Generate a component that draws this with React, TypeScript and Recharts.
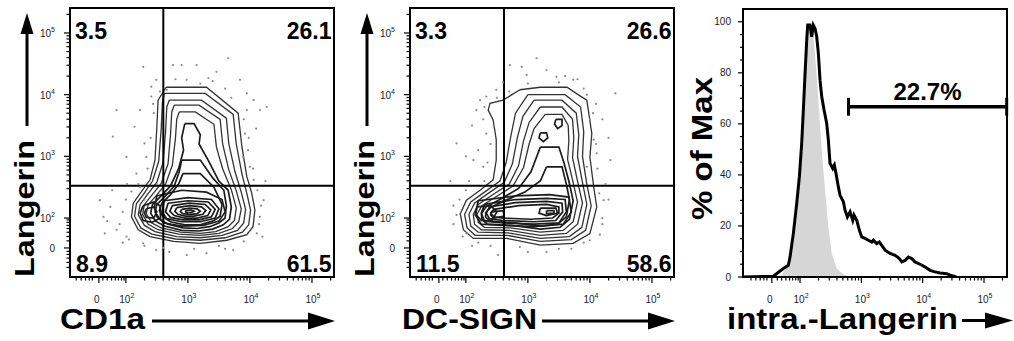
import React from "react"
import { Area, ComposedChart, Line, ReferenceArea, ReferenceLine, Scatter, XAxis, YAxis } from "recharts"

const FONT = "'Liberation Sans', Arial, Helvetica, sans-serif"

// all positions are display decades (10^2 -> 2, 10^3 -> 3 ...), biexponential near 0
const DOT_X_DOMAIN = [1.1, 5.355]
const DOT_Y_DOMAIN = [1.044, 5.405]
const HIST_X_DOMAIN = [1.07, 5.375]
const HIST_Y_DOMAIN = [0, 105]

const DECADES = [2, 3, 4, 5]
const ZERO_X = 1.565
const ZERO_Y = 1.515
const ZERO_HIST = 1.54
const MINOR_RAW = [200, 300, 400, 500, 600, 700, 800, 900, 2000, 3000, 4000, 5000, 6000, 7000, 8000, 9000,
  20000, 30000, 40000, 50000, 60000, 70000, 80000, 90000, 200000]
const NEAR_ZERO = [1.2, 1.28, 1.35, 1.41, 1.46, 1.63, 1.7, 1.77, 1.83, 1.88, 1.93, 1.97]
const PCT_TICKS = [0, 5, 10, 15, 20, 25, 30, 35, 40, 45, 50, 55, 60, 65, 70, 75, 80, 85, 90, 95, 100]
const PCT_MAJOR = [0, 20, 40, 60, 80, 100]

// CD1a vs Langerin
const CD1A_QUAD = ["3.5", "26.1", "8.9", "61.5"]
const CD1A_GATE = [2.604, 2.525]
const CD1A_RINGS = [
  [[2.65,4.12],[3.30,4.12],[3.81,3.70],[3.87,3.16],[3.95,2.67],[4.03,2.40],[4.08,2.13],[4.05,1.86],[3.95,1.73],[3.63,1.64],[3.20,1.59],[2.77,1.62],[2.39,1.70],[2.20,1.81],[2.09,2.02],[2.12,2.24],[2.23,2.40],[2.39,2.62],[2.47,2.94],[2.50,3.48],[2.52,3.91],[2.65,4.12]],
  [[2.62,4.02],[3.28,4.02],[3.73,3.68],[3.78,3.2],[3.87,2.72],[3.95,2.4],[4.01,2.13],[3.98,1.89],[3.88,1.77],[3.6,1.68],[3.2,1.64],[2.8,1.66],[2.42,1.74],[2.24,1.84],[2.14,2.03],[2.17,2.23],[2.28,2.38],[2.43,2.6],[2.53,2.92],[2.57,3.45],[2.59,3.88],[2.62,4.02]],
  [[2.70,3.91],[3.22,3.91],[3.62,3.62],[3.66,3.2],[3.76,2.75],[3.86,2.42],[3.93,2.14],[3.9,1.92],[3.8,1.8],[3.55,1.72],[3.2,1.68],[2.82,1.7],[2.47,1.78],[2.3,1.88],[2.2,2.05],[2.23,2.22],[2.34,2.37],[2.5,2.58],[2.6,2.9],[2.64,3.4],[2.66,3.8],[2.70,3.91]],
  [[2.78,3.83],[3.18,3.83],[3.52,3.6],[3.56,3.2],[3.66,2.78],[3.78,2.44],[3.86,2.15],[3.82,1.94],[3.72,1.83],[3.5,1.75],[3.2,1.72],[2.85,1.74],[2.52,1.81],[2.36,1.9],[2.27,2.06],[2.3,2.22],[2.41,2.36],[2.57,2.56],[2.68,2.88],[2.72,3.35],[2.74,3.72],[2.78,3.83]],
  [[2.86,3.72],[3.12,3.72],[3.42,3.52],[3.46,3.15],[3.56,2.8],[3.7,2.46],[3.78,2.16],[3.75,1.96],[3.65,1.86],[3.45,1.78],[3.2,1.75],[2.88,1.77],[2.57,1.84],[2.42,1.92],[2.33,2.07],[2.36,2.22],[2.48,2.35],[2.64,2.55],[2.75,2.86],[2.8,3.3],[2.82,3.6],[2.86,3.72]],
  [[2.95,3.53],[3.1,3.53],[3.2,3.35],[3.18,3.2],[3.32,2.95],[3.5,2.6],[3.65,2.45],[3.7,2.18],[3.67,1.98],[3.57,1.89],[3.4,1.82],[3.18,1.79],[2.9,1.8],[2.62,1.87],[2.48,1.95],[2.4,2.08],[2.43,2.22],[2.55,2.34],[2.72,2.52],[2.85,2.8],[2.93,3.1],[2.9,3.3],[2.95,3.53]],
  [[2.9,2.94],[3.2,2.94],[3.4,2.65],[3.58,2.45],[3.62,2.2],[3.6,2.0],[3.5,1.92],[3.35,1.86],[3.15,1.83],[2.92,1.84],[2.68,1.9],[2.55,1.98],[2.47,2.1],[2.5,2.22],[2.62,2.34],[2.78,2.52],[2.86,2.75],[2.9,2.94]],
  [[2.92,2.72],[3.2,2.72],[3.42,2.5],[3.55,2.22],[3.52,2.03],[3.42,1.96],[3.2,1.89],[2.95,1.89],[2.72,1.94],[2.6,2.02],[2.54,2.12],[2.58,2.24],[2.72,2.38],[2.85,2.55],[2.92,2.72]],
  [[2.5,2.36],[2.9,2.45],[3.3,2.42],[3.55,2.3],[3.6,2.1],[3.5,1.95],[3.25,1.88],[2.9,1.87],[2.62,1.92],[2.5,2.02],[2.46,2.18],[2.5,2.36]],
  [[2.62,2.28],[3.0,2.33],[3.38,2.3],[3.5,2.15],[3.44,2.0],[3.2,1.94],[2.9,1.94],[2.66,1.99],[2.58,2.1],[2.62,2.28]],
  [[2.68,2.24],[3.0,2.28],[3.33,2.26],[3.44,2.14],[3.38,2.02],[3.18,1.97],[2.92,1.97],[2.72,2.01],[2.64,2.1],[2.68,2.24]],
  [[2.75,2.2],[3.02,2.24],[3.28,2.22],[3.37,2.13],[3.32,2.04],[3.15,2.0],[2.95,2.0],[2.78,2.04],[2.71,2.11],[2.75,2.2]],
  [[2.82,2.17],[3.03,2.2],[3.22,2.18],[3.29,2.12],[3.24,2.06],[3.1,2.03],[2.96,2.03],[2.84,2.06],[2.79,2.11],[2.82,2.17]],
  [[2.9,2.14],[3.03,2.16],[3.15,2.15],[3.2,2.11],[3.15,2.07],[3.03,2.06],[2.92,2.07],[2.88,2.1],[2.9,2.14]],
  [[2.96,2.12],[3.05,2.13],[3.1,2.11],[3.05,2.09],[2.97,2.09],[2.96,2.12]],
  [[2.28,2.2],[2.45,2.26],[2.55,2.2],[2.56,2.0],[2.42,1.93],[2.28,1.96],[2.23,2.08],[2.28,2.2]],
  [[2.33,2.15],[2.45,2.18],[2.5,2.1],[2.45,2.0],[2.33,2.01],[2.3,2.08],[2.33,2.15]],
]
const CD1A_DOTS = [[3.65,4.59],[3.33,4.27],[2.28,4.45],[2.76,4.48],[2.9,4.48],[3.14,4.48],[2.49,4.24],[2.41,3.97],[2.23,3.75],
  [1.85,3.75],[1.79,3.32],[2.14,3.48],[2.3,3.21],[2.33,2.99],[2.01,2.99],[2.17,2.72],[1.58,2.29],[1.75,2.18],[1.64,2.02],
  [1.66,1.75],[1.85,1.81],[2.09,2.43],[2.23,2.5],[3.84,4.24],[3.95,4.02],[4.06,3.91],[3.95,3.75],[4.16,3.75],[4.27,3.8],
  [3.92,3.37],[3.97,3.1],[3.89,2.99],[4.0,2.83],[4.06,2.62],[4.22,2.29],[4.16,2.02],[4.11,1.75],[3.73,1.48],[2.98,1.4],
  [3.3,1.43],[2.49,1.48],[2.28,1.59],[2.01,1.7],[3.46,4.37],[3.2,4.18],[2.98,4.24],[2.66,4.08],[2.41,4.13],
  [2.45,3.7],[2.4,3.3],[2.35,2.8],[2.2,2.55],[2.0,2.3],[1.95,2.1],[1.9,1.9],[2.05,1.65],[2.3,1.55],[2.6,1.52],[3.1,1.5],
  [3.5,1.55],[3.9,1.62],[4.15,1.9],[4.18,2.2],[4.12,2.45],[4.05,2.8],[3.98,3.3],[3.9,3.6],[3.6,4.1],[3.4,4.22],[2.8,4.25],
  [2.55,4.05],[2.44,3.85],[2.02,2.55],[1.78,2.45],[1.7,1.95],[1.95,1.6],[2.7,1.45],[3.6,1.5],[4.2,1.7],[4.25,2.6],
  [4.1,3.45],[3.7,3.95],[2.5,2.55],[2.3,2.3]]

// DC-SIGN vs Langerin
const SIGN_QUAD = ["3.3", "26.6", "11.5", "58.6"]
const SIGN_GATE = [2.615, 2.525]
const SIGN_RINGS = [
  [[2.87,4.08],[3.2,4.12],[3.63,4.12],[3.84,3.98],[3.95,3.91],[4.03,3.37],[4.0,2.99],[4.06,2.51],[4.11,2.18],[4.0,1.75],[3.73,1.59],[3.2,1.56],[2.66,1.67],[2.12,1.67],[1.96,1.81],[1.91,2.07],[2.01,2.29],[2.23,2.45],[2.44,2.62],[2.49,2.94],[2.49,3.27],[2.44,3.59],[2.36,3.75],[2.39,3.86],[2.6,3.91],[2.87,4.08]],
  [[3.0,4.0],[3.6,4.0],[3.85,3.8],[3.9,3.4],[3.88,3.0],[3.95,2.55],[4.02,2.2],[3.93,1.8],[3.7,1.65],[3.2,1.62],[2.66,1.72],[2.15,1.72],[2.02,1.84],[1.98,2.06],[2.08,2.26],[2.3,2.42],[2.55,2.6],[2.65,2.9],[2.72,3.3],[2.8,3.7],[3.0,4.0]],
  [[3.1,3.91],[3.55,3.91],[3.78,3.7],[3.82,3.35],[3.8,3.0],[3.88,2.58],[3.95,2.22],[3.87,1.85],[3.67,1.7],[3.2,1.67],[2.68,1.76],[2.2,1.77],[2.08,1.87],[2.05,2.06],[2.14,2.24],[2.36,2.4],[2.62,2.58],[2.75,2.88],[2.83,3.3],[2.92,3.65],[3.1,3.91]],
  [[3.2,3.8],[3.55,3.8],[3.72,3.6],[3.74,3.3],[3.72,2.98],[3.8,2.6],[3.88,2.24],[3.8,1.9],[3.62,1.75],[3.2,1.72],[2.7,1.8],[2.25,1.81],[2.14,1.9],[2.12,2.06],[2.2,2.22],[2.42,2.37],[2.7,2.55],[2.85,2.85],[2.93,3.25],[3.02,3.55],[3.2,3.8]],
  [[3.28,3.68],[3.55,3.68],[3.65,3.5],[3.66,3.25],[3.64,2.95],[3.72,2.62],[3.8,2.26],[3.73,1.94],[3.57,1.8],[3.2,1.77],[2.72,1.84],[2.3,1.85],[2.2,1.93],[2.18,2.06],[2.26,2.2],[2.48,2.34],[2.76,2.52],[2.93,2.82],[3.02,3.2],[3.1,3.45],[3.28,3.68]],
  [[3.2,3.15],[3.5,3.15],[3.58,2.9],[3.66,2.6],[3.73,2.28],[3.67,1.98],[3.52,1.85],[3.2,1.82],[2.75,1.88],[2.35,1.9],[2.26,1.97],[2.25,2.07],[2.32,2.18],[2.55,2.3],[2.85,2.48],[3.05,2.75],[3.2,3.15]],
  [[3.2,3.38],[3.3,3.38],[3.32,3.3],[3.25,3.24],[3.18,3.3],[3.2,3.38]],
  [[3.45,3.6],[3.55,3.6],[3.55,3.5],[3.48,3.45],[3.43,3.52],[3.45,3.6]],
  [[3.3,2.83],[3.55,2.83],[3.62,2.55],[3.67,2.3],[3.62,2.02],[3.48,1.9],[3.2,1.87],[2.78,1.92],[2.4,1.95],[2.32,2.01],[2.32,2.09],[2.4,2.17],[2.6,2.27],[2.95,2.42],[3.2,2.6],[3.3,2.83]],
  [[2.2,2.28],[2.8,2.36],[3.35,2.38],[3.66,2.34],[3.7,2.1],[3.57,1.9],[3.1,1.86],[2.6,1.88],[2.25,1.9],[2.15,2.05],[2.2,2.28]],
  [[2.3,2.22],[2.8,2.3],[3.3,2.32],[3.6,2.3],[3.62,2.1],[3.5,1.92],[3.1,1.9],[2.6,1.92],[2.3,1.95],[2.25,2.08],[2.3,2.22]],
  [[2.38,2.18],[2.8,2.25],[3.3,2.27],[3.55,2.24],[3.56,2.1],[3.45,1.96],[3.1,1.94],[2.6,1.96],[2.38,1.99],[2.33,2.08],[2.38,2.18]],
  [[2.45,2.14],[2.85,2.2],[3.3,2.22],[3.5,2.18],[3.5,2.08],[3.4,2.0],[3.05,1.98],[2.6,2.0],[2.45,2.02],[2.4,2.08],[2.45,2.14]],
  [[2.18,2.18],[2.4,2.2],[2.5,2.1],[2.42,1.96],[2.25,1.96],[2.16,2.06],[2.18,2.18]],
  [[2.42,2.1],[2.6,2.12],[2.62,2.03],[2.45,2.0],[2.4,2.05],[2.42,2.1]],
  [[3.2,2.16],[3.45,2.16],[3.48,2.08],[3.3,2.04],[3.18,2.08],[3.2,2.16]],
  [[3.3,2.12],[3.42,2.12],[3.42,2.08],[3.3,2.07],[3.3,2.12]],
]
const SIGN_DOTS = [[3.14,4.59],[2.71,4.48],[2.9,4.45],[3.3,4.4],[3.6,4.3],[3.73,4.24],[3.46,4.29],[2.98,4.32],[2.49,4.08],
  [2.33,3.97],[2.23,3.91],[2.17,3.75],[2.28,3.6],[1.85,3.21],[2.33,3.37],[2.2,3.1],[2.12,2.94],[2.28,2.83],[2.05,2.6],
  [1.9,2.3],[1.85,2.05],[1.95,1.7],[2.01,1.75],[2.52,1.4],[2.87,1.53],[3.3,1.45],[3.7,1.5],[4.0,1.64],[4.16,1.73],
  [4.22,2.29],[4.25,2.55],[3.95,2.83],[4.11,3.05],[4.33,2.94],[4.06,3.27],[4.0,3.6],[4.1,3.85],[4.41,4.02],[3.9,4.1],
  [2.6,4.2],[2.45,3.5],[4.2,2.0],[2.4,3.2],[2.35,2.9],[2.3,2.6],[2.0,2.45],[1.8,2.2],[1.8,1.9],[2.1,1.55],[2.4,1.55],
  [3.0,1.45],[3.5,1.5],[3.9,1.6],[4.2,1.9],[4.15,2.4],[4.12,2.8],[4.1,3.2],[4.05,3.7],[3.95,4.0],[3.5,4.2],[3.0,4.18],
  [2.7,4.05],[2.5,3.95],[2.3,3.8],[2.1,3.5],[2.0,3.0],[1.75,2.6],[4.3,2.3],[4.3,3.3],[2.2,1.6],[3.8,4.25],[4.2,3.6]]

// intracellular Langerin histogram (% of max)
const STAIN_X = [1.07,1.565,1.728,1.809,1.837,1.891,1.946,1.989,2.027,2.054,2.082,2.109,2.125,2.163,2.19,2.217,2.245,2.272,
  2.299,2.326,2.354,2.392,2.435,2.462,2.489,2.533,2.56,2.587,2.625,2.653,2.707,2.734,2.772,2.816,2.86,2.881,2.925,2.968,
  3.006,3.06,3.114,3.17,3.196,3.25,3.293,3.332,3.387,3.468,3.55,3.62,3.659,3.713,3.767,3.822,3.876,3.958,4.039,4.121,
  4.202,4.284,4.393,4.447,4.55]
const STAIN_Y = [0,0.3,3.3,4.6,7.8,17,28.8,39.2,52.3,65.4,79.8,92.8,98.7,98.7,94.1,98.7,97.4,94.1,87.6,77.1,70.6,65.4,
  60.2,53.6,44.5,42.5,43.8,40.5,35.3,32,29.5,26.2,23.5,25.5,22.2,24.2,22.2,18.3,15.7,15.1,14.4,13.7,14.4,13.1,13.7,12.4,
  10.5,9.2,8.5,7.2,5.9,6.5,7.8,7.2,5.9,5.0,3.9,2.6,2.0,1.6,1.3,0.7,0]
const ISO_X = [1.674,1.783,1.865,1.918,1.972,2.011,2.054,2.082,2.109,2.136,2.174,2.207,2.228,2.261,2.299,2.354,2.408,
  2.462,2.517,2.599,2.707,2.816]
const ISO_Y = [0,3.9,9.2,17,30.1,43.1,58.8,75.8,88.9,98,96.1,98,91.5,82.4,69.3,49.7,34,19.6,9.2,3.3,1.0,0]
const HIST_GATE = [2.79, 5.37]
const HIST_GATE_LEVEL = 66.7
const HIST_GATE_LABEL = "22.7%"

const toPts = (r: number[][]) => r.map(([x, y]) => ({ x, y }))
const zip = (xs: number[], ys: number[]) => xs.map((x, i) => ({ x, y: ys[i] }))

function logTicks(zero: number, domain: number[]) {
  return [zero, ...DECADES, ...NEAR_ZERO, ...MINOR_RAW.map(Math.log10)]
    .filter((v) => v >= domain[0] && v <= domain[1])
    .sort((a, b) => a - b)
}

function logLabel(v: number, zero: number) {
  if (v === zero) return "0"
  return (
    <>
      <tspan>10</tspan>
      <tspan dy={-5} fontSize={7}>{v}</tspan>
    </>
  )
}

const bottomTick = (zero: number) => (p: any) => {
  const v = p.payload.value
  const major = v === zero || DECADES.includes(v)
  return (
    <g>
      <line x1={p.x} x2={p.x} y1={p.y} y2={p.y + (major ? 6 : 3.5)} stroke="#000" strokeWidth={1.2} />
      {major && (
        <text x={v === zero ? p.x - 2 : p.x + 1} y={p.y + 26} textAnchor="middle" fontSize={10} fill="#222" fontFamily={FONT}>
          {logLabel(v, zero)}
        </text>
      )}
    </g>
  )
}

const leftTick = (zero: number) => (p: any) => {
  const v = p.payload.value
  const major = v === zero || DECADES.includes(v)
  return (
    <g>
      <line x1={p.x - (major ? 6 : 3.5)} x2={p.x} y1={p.y} y2={p.y} stroke="#000" strokeWidth={1.2} />
      {major && (
        <text x={p.x - 15} y={p.y + 4} textAnchor="end" fontSize={10} fill="#222" fontFamily={FONT}>
          {logLabel(v, zero)}
        </text>
      )}
    </g>
  )
}

const pctTick = (p: any) => {
  const v = p.payload.value
  const major = PCT_MAJOR.includes(v)
  return (
    <g>
      <line x1={p.x - (major ? 5 : 3)} x2={p.x} y1={p.y} y2={p.y} stroke="#000" strokeWidth={1.2} />
      {major && (
        <text x={p.x - 12} y={p.y + 3.5} textAnchor="end" fontSize={10} fill="#222" fontFamily={FONT}>
          {v}
        </text>
      )}
    </g>
  )
}

const dotShape = (p: any) => <circle cx={p.cx} cy={p.cy} r={1.1} fill="#8a8a8a" />

function DotPlot({ rings, dots, gate }: { rings: number[][][]; dots: number[][]; gate: number[] }) {
  return (
    <ComposedChart width={340} height={341} margin={{ top: 8, right: 6, bottom: 34, left: 30 }}>
      <XAxis type="number" dataKey="x" domain={DOT_X_DOMAIN} allowDataOverflow ticks={logTicks(ZERO_X, DOT_X_DOMAIN)}
        interval={0} tick={bottomTick(ZERO_X)} tickLine={false} tickSize={0} tickMargin={0} height={30}
        axisLine={{ stroke: "#000", strokeWidth: 2 }} />
      <YAxis type="number" dataKey="y" domain={DOT_Y_DOMAIN} allowDataOverflow ticks={logTicks(ZERO_Y, DOT_Y_DOMAIN)}
        interval={0} tick={leftTick(ZERO_Y)} tickLine={false} tickSize={0} tickMargin={0} width={40}
        axisLine={{ stroke: "#000", strokeWidth: 2 }} />
      <Scatter data={toPts(dots)} shape={dotShape} isAnimationActive={false} />
      {rings.map((r, i) => (
        <Line key={i} data={toPts(r)} dataKey="y" type="linear" dot={false} activeDot={false}
          stroke={i < 5 ? "#333" : "#1c1c1c"} strokeWidth={i < 5 ? 1.3 : 1.7} isAnimationActive={false} />
      ))}
      <ReferenceLine x={gate[0]} stroke="#000" strokeWidth={2} />
      <ReferenceLine y={gate[1]} stroke="#000" strokeWidth={2} />
      <ReferenceArea x1={DOT_X_DOMAIN[0]} x2={DOT_X_DOMAIN[1]} y1={DOT_Y_DOMAIN[0]} y2={DOT_Y_DOMAIN[1]}
        fill="none" fillOpacity={0} stroke="#000" strokeWidth={2} />
    </ComposedChart>
  )
}

function Histogram() {
  return (
    <ComposedChart width={334} height={341} data={zip(ISO_X, ISO_Y)} margin={{ top: 9, right: 7, bottom: 34, left: 23 }}>
      <XAxis type="number" dataKey="x" domain={HIST_X_DOMAIN} allowDataOverflow ticks={logTicks(ZERO_HIST, HIST_X_DOMAIN)}
        interval={0} tick={bottomTick(ZERO_HIST)} tickLine={false} tickSize={0} tickMargin={0} height={30}
        axisLine={{ stroke: "#000", strokeWidth: 2 }} />
      <YAxis type="number" domain={HIST_Y_DOMAIN} allowDataOverflow ticks={PCT_TICKS} interval={0} tick={pctTick}
        tickLine={false} tickSize={0} tickMargin={0} width={40} axisLine={{ stroke: "#000", strokeWidth: 2 }} />
      <Area dataKey="y" type="linear" baseValue={0} fill="#d6d6d6" fillOpacity={1} stroke="none" isAnimationActive={false} />
      <Line data={zip(STAIN_X, STAIN_Y)} dataKey="y" type="linear" dot={false} activeDot={false} stroke="#000"
        strokeWidth={3} isAnimationActive={false} />
      <ReferenceLine segment={[{ x: HIST_GATE[0], y: HIST_GATE_LEVEL }, { x: HIST_GATE[1], y: HIST_GATE_LEVEL }]}
        stroke="#000" strokeWidth={3.5} />
      <ReferenceLine segment={[{ x: HIST_GATE[0], y: HIST_GATE_LEVEL - 3.5 }, { x: HIST_GATE[0], y: HIST_GATE_LEVEL + 3.5 }]}
        stroke="#000" strokeWidth={3} />
      <ReferenceLine segment={[{ x: HIST_GATE[1], y: HIST_GATE_LEVEL - 3.5 }, { x: HIST_GATE[1], y: HIST_GATE_LEVEL + 3.5 }]}
        stroke="#000" strokeWidth={3} />
      <ReferenceArea x1={HIST_X_DOMAIN[0]} x2={HIST_X_DOMAIN[1]} y1={HIST_Y_DOMAIN[0]} y2={HIST_Y_DOMAIN[1]}
        fill="none" fillOpacity={0} stroke="#000" strokeWidth={2} />
    </ComposedChart>
  )
}

function DotPlotText({ ox, quad, title, titleX, titleLen, arrowFrom }: any) {
  return (
    <g>
      <text x={ox + 75} y={38.5} fontSize={23}>{quad[0]}</text>
      <text x={ox + 331.5} y={38.5} fontSize={23} textAnchor="end">{quad[1]}</text>
      <text x={ox + 76} y={272} fontSize={23}>{quad[2]}</text>
      <text x={ox + 331.5} y={272} fontSize={23} textAnchor="end">{quad[3]}</text>
      <text x={ox + titleX} y={328.5} fontSize={30} textLength={titleLen} lengthAdjust="spacingAndGlyphs">{title}</text>
      <line x1={ox + arrowFrom} x2={ox + 312} y1={321} y2={321} stroke="#000" strokeWidth={3} />
      <polygon points={`${ox + 308},312.5 ${ox + 335},321 ${ox + 308},329.5`} fill="#000" />
      <text transform={`translate(${ox + 33.5} 277) rotate(-90)`} fontSize={28} textLength={137}
        lengthAdjust="spacingAndGlyphs">Langerin</text>
      <line x1={ox + 27} x2={ox + 27} y1={126} y2={30} stroke="#000" strokeWidth={3} />
      <polygon points={`${ox + 20.5},34 ${ox + 27},13 ${ox + 33.5},34`} fill="#000" />
    </g>
  )
}

export default function App() {
  return (
    <div style={{ position: "absolute", left: 0, top: 0, width: 1014, height: 341, background: "#fff", fontFamily: FONT }}>
      <div style={{ position: "absolute", left: 0, top: 0 }}>
        <DotPlot rings={CD1A_RINGS} dots={CD1A_DOTS} gate={CD1A_GATE} />
      </div>
      <div style={{ position: "absolute", left: 340, top: 0 }}>
        <DotPlot rings={SIGN_RINGS} dots={SIGN_DOTS} gate={SIGN_GATE} />
      </div>
      <div style={{ position: "absolute", left: 680, top: 0 }}>
        <Histogram />
      </div>
      <svg width={1014} height={341} style={{ position: "absolute", left: 0, top: 0, pointerEvents: "none" }}
        fontFamily={FONT} fontWeight="bold" fill="#000">
        <DotPlotText ox={0} quad={CD1A_QUAD} title="CD1a" titleX={60} titleLen={85} arrowFrom={152} />
        <DotPlotText ox={340} quad={SIGN_QUAD} title="DC-SIGN" titleX={62} titleLen={135} arrowFrom={202} />
        <text x={927.5} y={100} fontSize={24} textAnchor="middle">{HIST_GATE_LABEL}</text>
        <text transform="translate(711.5 220) rotate(-90)" fontSize={30} textLength={143}
          lengthAdjust="spacingAndGlyphs">% of Max</text>
        <text x={727} y={328.5} fontSize={29} textLength={231} lengthAdjust="spacingAndGlyphs">intra.-Langerin</text>
        <line x1={962} x2={990} y1={320.5} y2={320.5} stroke="#000" strokeWidth={3} />
        <polygon points="985,312.5 1013,320.5 985,328.5" fill="#000" />
      </svg>
    </div>
  )
}
